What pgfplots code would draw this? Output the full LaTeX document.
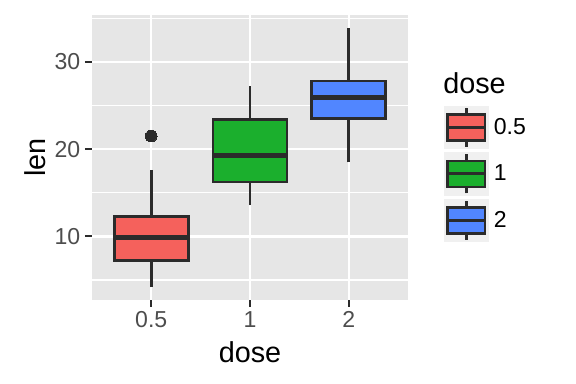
\documentclass[border=0pt]{standalone}
\usepackage{fontspec}
\setmainfont{Liberation Sans}
\usepackage{pgfplots}
\pgfplotsset{compat=1.18}
\definecolor{c1}{HTML}{F5615C}
\definecolor{c2}{HTML}{1BAF2D}
\definecolor{c3}{HTML}{5186FF}
\definecolor{panel}{HTML}{E6E6E6}
\definecolor{keybg}{HTML}{F0F0F0}
\definecolor{g20}{HTML}{2B2B2B}
\definecolor{g30}{HTML}{4D4D4D}
\pgfplotsset{keybox/.style={legend image code/.code={
  \fill[keybg] (0pt,-15.9pt) rectangle (33pt,15.9pt);
  \draw[g20, line width=2pt] (16.5pt,-14.6pt) -- (16.5pt,14.6pt);
  \filldraw[draw=g20, line width=2pt] (2.5pt,-9.75pt) rectangle (30.5pt,9.75pt);
  \draw[g20, line width=2.2pt] (2.5pt,0pt) -- (30.5pt,0pt);
}},
whisk/.style={forget plot, draw=g20, line width=2pt, no markers},
box/.style={forget plot, draw=g20, line width=2pt, no markers, fill=#1},
med/.style={forget plot, draw=g20, line width=3.8pt, no markers, line cap=butt},
}
\begin{document}
\begin{tikzpicture}
\useasboundingbox (0,0) rectangle (432pt,288pt);
\begin{axis}[
 at={(69pt,63pt)}, anchor=south west,
 scale only axis, width=237pt, height=213.75pt,
 xmin=0.4, xmax=3.6, ymin=2.715, ymax=35.385,
 xtick={1,2,3}, xticklabels={0.5,1,2},
 ytick={10,20,30}, minor ytick={5,15,25,35},
 grid=both,
 major grid style={white, line width=1.7pt},
 minor grid style={white, line width=0.9pt},
 axis background/.style={fill=panel},
 axis line style={draw=none},
 tick align=outside, tick pos=left,
 major tick length=5.25pt, minor tick length=0pt,
 every tick/.style={g20, line width=1.5pt},
 /pgf/number format/assume math mode=true,
 tick label style={font=\fontsize{17.3}{20}\selectfont, text=g30},
 xlabel={dose}, ylabel={len},
 label style={font=\fontsize{21.6}{25}\selectfont},
 xlabel style={yshift=-3pt},
 legend style={at={(axis description cs:1.1139,0.6807)}, anchor=north west, draw=none, fill=none, inner sep=0pt, outer sep=0pt, row sep=2.6pt, column sep=4pt, font=\fontsize{17.3}{20}\selectfont, nodes={inner sep=0pt}},
 legend cell align=left,
]
% dose 0.5
\addplot[whisk] coordinates {(1,4.2) (1,7.225)};
\addplot[whisk] coordinates {(1,12.25) (1,17.6)};
\addplot[box=c1] coordinates {(0.625,7.225) (1.375,7.225) (1.375,12.25) (0.625,12.25)} --cycle;
\addplot[med] coordinates {(0.625,9.85) (1.375,9.85)};
\addplot[forget plot, only marks, mark=*, mark size=4.4pt, mark options={fill=g20, draw=g20, line width=0pt}] coordinates {(1,21.5)};
% dose 1
\addplot[whisk] coordinates {(2,13.6) (2,16.25)};
\addplot[whisk] coordinates {(2,23.375) (2,27.3)};
\addplot[box=c2] coordinates {(1.625,16.25) (2.375,16.25) (2.375,23.375) (1.625,23.375)} --cycle;
\addplot[med] coordinates {(1.625,19.25) (2.375,19.25)};
% dose 2
\addplot[whisk] coordinates {(3,18.5) (3,23.525)};
\addplot[whisk] coordinates {(3,27.825) (3,33.9)};
\addplot[box=c3] coordinates {(2.625,23.525) (3.375,23.525) (3.375,27.825) (2.625,27.825)} --cycle;
\addplot[med] coordinates {(2.625,25.95) (3.375,25.95)};
\addlegendimage{keybox, fill=c1}
\addlegendentry{0.5}
\addlegendimage{keybox, fill=c2}
\addlegendentry{1}
\addlegendimage{keybox, fill=c3}
\addlegendentry{2}
\end{axis}
\node[anchor=base west, font=\fontsize{21.6}{25}\selectfont, inner sep=0pt] at (332.25pt,217.5pt) {dose};
\end{tikzpicture}
\end{document}
